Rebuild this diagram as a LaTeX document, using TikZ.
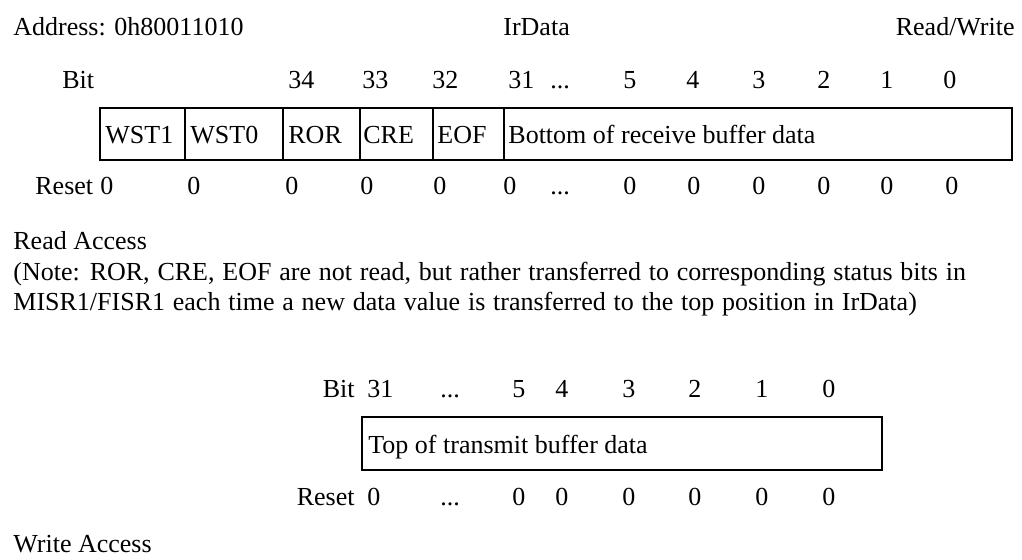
\documentclass[tikz,border=0pt]{standalone}
\usepackage{fontspec}
\setmainfont{Liberation Serif}
\usetikzlibrary{positioning}
\newcommand{\ellip}{...}
\newcommand{\widespace}{\spaceskip=3.9pt\relax}

\begin{document}
\begin{tikzpicture}[
    x=0.5pt, y=-0.5pt,
    font=\fontsize{13}{15.6}\selectfont,
    txt/.style={anchor=base west, inner sep=0pt},
    rtxt/.style={anchor=base east, inner sep=0pt},
    wide/.style={txt, execute at begin node=\widespace},
    frame/.style={draw, line width=1pt}
]
\useasboundingbox (0,0) rectangle (1022,559);

% header line
\node[txt] (addr) at (13,35) {Address: 0h80011010};
\node[txt] (regname) at (503,35) {IrData};
\node[rtxt] (access) at (1015,35) {Read/Write};

% receive side: bit numbers, fields, reset values
\node[txt] (rxbit) at (62,88) {Bit};
\foreach \x/\b [count=\i] in {288/34, 362/33, 432/32, 508/31, 550/\ellip, 623/5, 686/4, 752/3, 817/2, 880/1, 943/0}
    \node[txt] (rxnum\i) at (\x,88) {\b};

\draw[frame] (100,108) rectangle (1012,160);
\foreach \x in {185,283,360,433,504}
    \draw[frame] (\x,108) -- (\x,160);
\foreach \x/\f [count=\i] in {105/WST1, 190/WST0, 288/ROR, 363/CRE, 437/EOF, 508/Bottom of receive buffer data}
    \node[txt] (rxfield\i) at (\x,143) {\f};

\node[txt] (rxreset) at (35,194) {Reset};
\foreach \x/\v [count=\i] in {100/0, 187/0, 285/0, 360/0, 433/0, 503/0, 550/\ellip, 623/0, 687/0, 752/0, 817/0, 880/0, 945/0}
    \node[txt] (rxval\i) at (\x,194) {\v};

% notes
\node[txt] (readacc) at (13,249) {Read Access};
\node[wide] (note1) at (13,280) {(Note: ROR, CRE, EOF are not read, but rather transferred to corresponding status bits in};
\node[wide] (note2) at (13,310) {MISR1/FISR1 each time a new data value is transferred to the top position in IrData)};

% transmit side
\node[rtxt] (txbit) at (355,397) {Bit};
\foreach \x/\b [count=\i] in {367/31, 440/\ellip, 512/5, 555/4, 622/3, 688/2, 755/1, 822/0}
    \node[txt] (txnum\i) at (\x,397) {\b};

\draw[frame] (362,417) rectangle (882,470);
\node[txt] (txfield) at (368,453) {Top of transmit buffer data};

\node[rtxt] (txreset) at (355,505) {Reset};
\foreach \x/\v [count=\i] in {367/0, 440/\ellip, 512/0, 555/0, 622/0, 688/0, 755/0, 822/0}
    \node[txt] (txval\i) at (\x,505) {\v};

\node[txt] (writeacc) at (13,552) {Write Access};
\end{tikzpicture}
\end{document}
